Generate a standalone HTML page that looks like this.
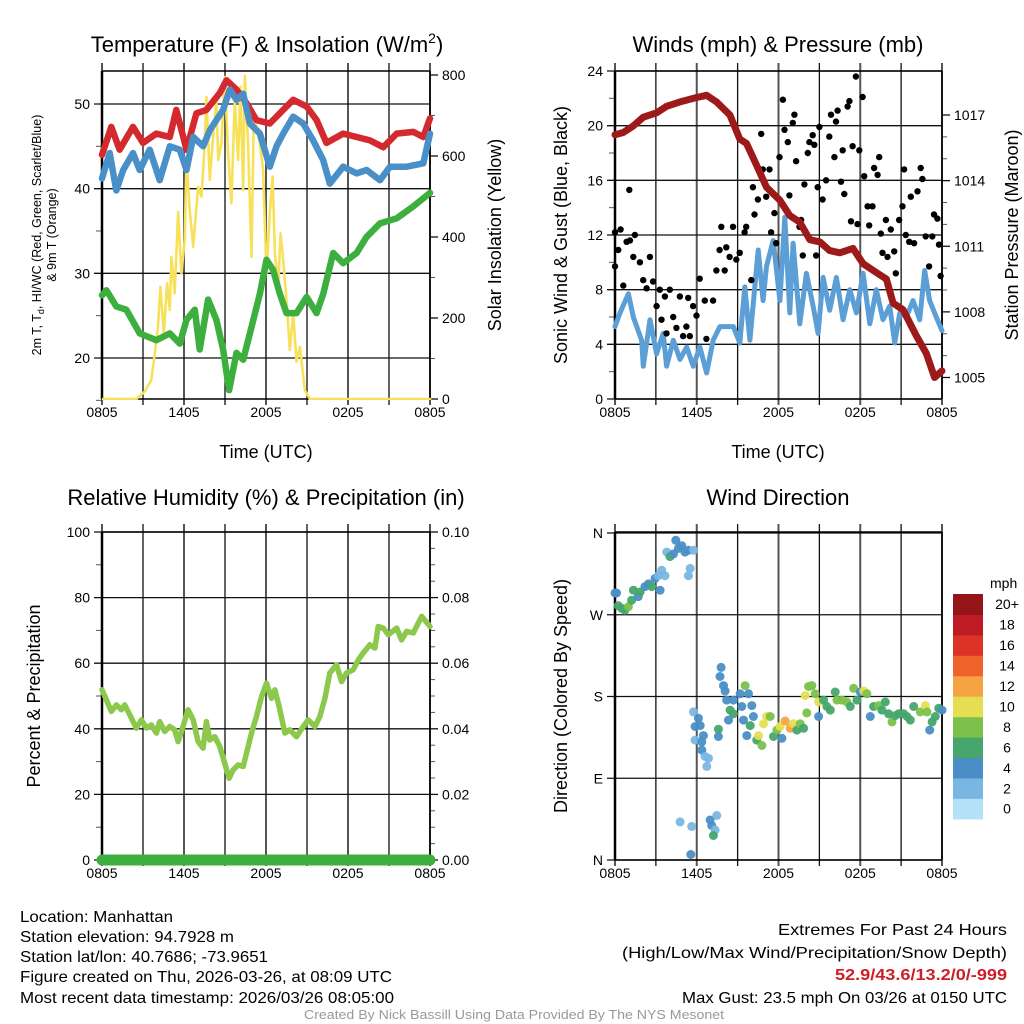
<!DOCTYPE html>
<html><head><meta charset="utf-8"><style>
html,body{margin:0;padding:0;background:#fff;}
svg{display:block;font-family:"Liberation Sans",Arial,sans-serif;}
</style></head><body>
<svg id="fig" width="1024" height="1024" viewBox="0 0 1024 1024" xmlns="http://www.w3.org/2000/svg">
<rect width="1024" height="1024" fill="#fff"/>
<g font-size="22" text-anchor="middle" fill="#000">
<text x="267" y="52">Temperature (F) &amp; Insolation (W/m<tspan font-size="14" dy="-9">2</tspan><tspan dy="9">)</tspan></text>
<text x="778" y="52">Winds (mph) &amp; Pressure (mb)</text>
<text x="266" y="505">Relative Humidity (%) &amp; Precipitation (in)</text>
<text x="778" y="505">Wind Direction</text>
</g>
<g font-size="18" text-anchor="middle">
<text x="266" y="458">Time (UTC)</text>
<text x="778" y="458">Time (UTC)</text>
<text transform="translate(501,235) rotate(-90)">Solar Insolation (Yellow)</text>
<text transform="translate(567,235) rotate(-90)">Sonic Wind &amp; Gust (Blue, Black)</text>
<text transform="translate(1018,235) rotate(-90)">Station Pressure (Maroon)</text>
<text transform="translate(40,696) rotate(-90)">Percent &amp; Precipitation</text>
<text transform="translate(567,696) rotate(-90)">Direction (Colored By Speed)</text>
</g>
<g font-size="12.5" text-anchor="middle">
<text transform="translate(41,235) rotate(-90)">2m T, T<tspan font-size="9" dy="3">d</tspan><tspan dy="-3">, HI/WC (Red, Green, Scarlet/Blue)</tspan></text>
<text transform="translate(56,235) rotate(-90)">&amp; 9m T (Orange)</text>
</g>
<g id="layer"></g>
<g font-size="16" fill="#000" lengthAdjust="spacingAndGlyphs">
<text x="20" y="922" textLength="153" lengthAdjust="spacingAndGlyphs">Location: Manhattan</text>
<text x="20" y="942" textLength="214" lengthAdjust="spacingAndGlyphs">Station elevation: 94.7928 m</text>
<text x="20" y="962" textLength="248" lengthAdjust="spacingAndGlyphs">Station lat/lon: 40.7686; -73.9651</text>
<text x="20" y="982" textLength="372" lengthAdjust="spacingAndGlyphs">Figure created on Thu, 2026-03-26, at 08:09 UTC</text>
<text x="20" y="1003" textLength="374" lengthAdjust="spacingAndGlyphs">Most recent data timestamp: 2026/03/26 08:05:00</text>
<text x="778" y="935" textLength="229" lengthAdjust="spacingAndGlyphs">Extremes For Past 24 Hours</text>
<text x="622" y="958" textLength="385" lengthAdjust="spacingAndGlyphs">(High/Low/Max Wind/Precipitation/Snow Depth)</text>
<text x="835" y="980" textLength="172" lengthAdjust="spacingAndGlyphs" fill="#cc1f26" font-weight="bold">52.9/43.6/13.2/0/-999</text>
<text x="682" y="1003" textLength="325" lengthAdjust="spacingAndGlyphs">Max Gust: 23.5 mph On 03/26 at 0150 UTC</text>
<text x="304" y="1019" textLength="420" lengthAdjust="spacingAndGlyphs" font-size="13" fill="#999">Created By Nick Bassill Using Data Provided By The NYS Mesonet</text>
</g>
</svg>
<script>
const xTickLabels = ["0805","1405","2005","0205","0805"];
// Temperature panel
const redHours=[0,0.68,1.29,2.27,3.0,3.98,4.96,5.44,6.18,6.91,7.64,8.62,9.11,9.84,10.57,11.3,12.28,13.26,13.99,14.97,15.7,16.43,17.65,18.63,19.6,20.58,21.56,22.78,23.51,24];
const redTemp=[44.0,47.3,44.6,47.3,45.4,46.5,46.1,49.3,44.6,48.9,49.3,51.3,52.8,51.7,50.1,48.1,47.7,49.3,50.5,49.7,48.1,45.4,46.5,46.1,45.7,44.9,46.5,46.7,46.1,48.3];
const blueHours=[0,0.56,1.05,1.55,2.27,2.76,3.49,4.22,4.96,5.69,6.18,6.67,7.4,7.89,8.86,9.35,9.84,10.33,10.82,11.55,12.28,12.77,13.26,13.99,14.72,15.45,16.18,16.67,17.65,18.63,19.36,20.34,21.07,22.29,23.51,24];
const blueTemp=[41.2,44.2,39.8,42.2,44.2,42.2,44.6,41.0,45.0,44.6,42.2,46.1,45.0,46.9,49.3,51.7,50.5,51.2,47.7,46.5,42.6,45.0,46.5,48.5,47.7,45.7,43.4,40.6,42.6,41.8,42.2,41.0,42.6,42.6,43.0,46.5];
const greenHours=[0,0.32,1.05,1.78,2.76,3.98,4.96,5.69,6.18,6.79,7.15,7.76,8.37,8.86,9.3,9.84,10.33,10.82,11.55,12.04,12.52,13.01,13.5,14.23,14.97,15.7,16.19,16.92,17.65,18.63,19.36,20.34,21.56,22.78,24];
const greenTemp=[27.4,28.0,26.1,25.7,22.9,22.1,22.9,21.7,24.5,25.7,21.0,26.9,24.5,21.0,16.2,20.6,19.8,22.9,27.6,31.6,30.4,27.6,25.3,25.3,27.2,25.3,27.6,32.4,31.2,32.4,34.3,35.9,36.5,37.9,39.5];
const solarHours=[0,2.51,3.12,3.61,3.86,4.1,4.27,4.52,4.76,4.96,5.08,5.32,5.57,5.81,6.05,6.18,6.42,6.67,7.03,7.28,7.52,7.64,7.89,8.13,8.37,8.5,8.74,8.98,9.23,9.47,9.72,9.96,10.13,10.33,10.45,10.69,10.94,11.11,11.3,11.55,11.79,12.04,12.28,12.48,12.65,12.89,13.06,13.26,13.5,13.74,13.99,14.23,14.48,14.84,15.21,24];
const solarWm2=[0,0,18,47,113,179,277,162,286,220,351,261,462,310,393,590,467,376,524,500,631,746,541,648,738,590,631,795,607,483,738,590,771,516,798,631,351,697,672,631,565,310,458,549,360,277,409,343,244,121,212,92,129,22,0,0];
const tempTicks=[20,30,40,50];
const solarTicks=[0,200,400,600,800];
// Winds panel
const presHours=[0,0.61,1.34,2.08,3.05,3.79,4.77,5.99,6.72,7.45,8.43,9.16,9.65,10.39,11.12,12.1,12.83,13.56,14.3,15.03,15.76,16.5,17.47,18.21,19.18,19.92,20.41,21.14,22.12,22.85,23.46,24];
const presMb=[1016.1,1016.2,1016.5,1016.9,1017.1,1017.4,1017.6,1017.8,1017.9,1017.6,1017.0,1015.9,1015.7,1014.7,1013.7,1013.1,1012.4,1012.1,1011.3,1011.2,1010.8,1010.7,1010.9,1010.2,1009.8,1009.5,1008.4,1008.1,1006.9,1006.1,1005.0,1005.3];
const sonicHours=[0,0.37,0.98,1.34,1.95,2.08,2.57,3.05,3.54,3.79,4.28,4.77,5.26,5.74,6.23,6.72,7.21,7.7,8.68,9.16,9.53,9.9,10.51,10.87,11.12,11.61,12.1,12.46,12.83,13.07,13.56,14.05,14.54,14.91,15.27,15.76,16.25,16.74,17.23,17.72,18.21,18.7,19.18,19.67,20.16,20.53,20.9,21.39,21.87,22.36,22.73,23.09,23.58,24];
const sonicMph=[5.3,6.3,7.7,6.0,4.3,2.4,5.8,3.3,4.8,2.4,4.3,2.9,3.8,2.4,3.8,1.9,4.3,5.3,5.3,4.1,8.2,4.3,10.9,7.2,9.7,11.6,7.2,13.3,6.3,11.4,5.5,9.2,6.8,4.8,8.9,6.5,8.9,5.8,8.0,6.3,9.2,5.5,8.0,5.8,6.8,4.1,6.3,6.0,7.2,5.8,9.4,7.2,6.0,5.0];
const gustHours=[0,0,0.24,0.41,0.61,0.85,1.05,1.1,1.34,1.46,1.83,2.07,2.32,2.56,2.8,3.05,3.29,3.41,3.66,3.78,4.02,4.27,4.51,4.76,5.0,5.24,5.37,5.49,5.73,5.98,6.22,6.59,6.71,7.2,7.44,7.68,7.8,8.05,8.17,8.41,8.66,8.9,9.15,9.51,9.63,10.0,10.12,10.24,10.49,10.73,10.85,11.1,11.34,11.46,11.7,11.83,12.07,12.32,12.44,12.68,12.8,13.05,13.17,13.29,13.54,13.66,13.78,13.9,14.15,14.27,14.51,14.63,14.76,14.88,15.0,15.24,15.49,15.73,15.85,16.1,16.22,16.34,16.59,16.71,16.83,17.07,17.2,17.32,17.44,17.68,17.8,17.93,18.17,18.29,18.54,18.66,18.9,19.02,19.27,19.39,19.51,19.63,19.88,20.0,20.24,20.49,20.61,20.85,21.1,21.22,21.34,21.59,21.71,21.95,22.2,22.44,22.56,22.8,23.05,23.29,23.41,23.66,23.78,23.9];
const gustMph=[9.7,12.2,10.9,12.4,8.3,11.5,15.3,11.6,10.4,12.0,10.0,8.7,8.1,10.4,8.6,6.8,8.0,5.8,7.5,4.8,8.0,6.0,5.2,7.5,4.6,5.3,7.4,4.6,6.8,6.1,8.8,7.2,4.4,7.2,9.4,10.9,12.6,9.4,11.1,10.4,12.6,10.2,10.7,12.2,12.6,8.7,15.5,13.5,14.6,19.4,16.8,14.8,16.8,12.2,13.6,11.4,17.7,21.9,19.7,18.8,14.9,20.2,20.8,17.4,12.6,13.1,10.5,15.7,18.0,18.8,19.3,18.6,10.5,15.5,19.9,14.6,16.0,19.2,20.8,17.7,20.3,21.1,15.9,18.2,15.0,21.4,21.8,13.0,18.5,23.6,12.8,18.2,22.1,16.3,14.1,12.7,14.1,16.9,16.4,17.7,12.1,10.7,13.1,10.4,12.4,10.8,9.2,13.1,14.1,16.8,12.0,11.5,14.8,11.4,15.2,16.9,16.1,11.9,9.7,11.9,13.5,13.2,11.3,9.0];
const windTicks=[0,4,8,12,16,20,24];
const presTicks=[1005,1008,1011,1014,1017];
// Humidity panel
const rhHours=[0,0.32,0.68,1.05,1.42,1.66,2.03,2.51,2.88,3.25,3.61,3.98,4.22,4.59,4.96,5.32,5.57,5.93,6.3,6.67,7.03,7.4,7.64,7.89,8.25,8.62,8.98,9.3,9.6,9.96,10.33,10.57,10.94,11.3,11.67,12.04,12.4,12.65,12.96,13.38,13.74,14.23,14.72,15.09,15.58,15.94,16.31,16.67,17.16,17.53,17.89,18.38,18.75,19.11,19.6,19.97,20.21,20.58,20.95,21.56,21.92,22.29,22.78,23.39,24];
const rhPct=[51.9,48.8,45.3,47.3,45.8,47.3,44.3,40.2,42.7,40.2,41.2,38.7,42.2,39.2,40.7,39.7,36.1,40.7,45.8,42.7,36.1,34.1,42.2,36.6,37.6,34.6,29.5,24.9,27.5,29.0,28.5,32.6,38.7,43.7,49.8,53.9,49.3,51.9,46.8,38.7,39.7,37.6,40.7,42.7,40.7,43.7,49.3,57.0,59.5,54.4,57.0,58.0,61.0,63.1,65.6,64.6,71.2,70.7,68.7,70.7,67.1,69.7,69.2,74.3,71.2];
const precipHours=[0,24];
const precipIn=[0,0];
const rhTicks=[0,20,40,60,80,100];
const precipTicks=["0.00","0.02","0.04","0.06","0.08","0.10"];
// Wind direction panel
const dirHours=[0,0.12,0.24,0.49,0.73,0.98,1.22,1.35,1.71,1.84,2.2,2.45,2.69,2.94,3.18,3.31,3.43,3.67,3.8,4.04,4.29,4.46,4.65,4.9,5.14,5.39,5.51,5.39,5.76,4.78,5.63,5.56,5.76,5.88,6.12,6.25,5.88,6.37,6.49,6.37,6.61,6.86,6.74,6.98,7.1,7.35,7.22,7.47,7.79,7.71,7.96,8.08,7.59,7.59,8.2,8.45,8.69,8.33,8.69,9.18,9.31,9.55,9.8,9.43,9.67,9.92,10.04,10.16,10.41,10.53,10.78,10.9,11.14,11.39,11.63,11.88,12.12,12.25,12.49,12.86,13.1,13.35,13.59,13.84,14.08,13.96,14.2,14.45,14.69,14.94,14.94,15.31,15.55,15.8,16.16,16.29,16.65,17.02,17.27,17.51,17.76,18.0,18.25,18.49,18.74,18.98,19.35,19.59,19.84,20.08,20.33,20.57,20.82,21.19,21.43,21.67,21.92,22.41,22.78,22.9,23.1,23.27,23.51,23.76,24];
const dirDeg=[294,294,280,277,275,279,286,297,290,295,301,304,301,310,313,297,319,313,339,334,337,352,343,346,339,341,321,313,341,42,37,6,163,147,156,148,132,130,137,121,114,112,103,44,38,33,27,49,212,202,192,186,144,136,176,165,161,154,176,183,169,192,183,154,137,148,170,158,132,137,126,150,158,158,136,143,147,134,153,145,150,143,150,145,162,181,191,192,183,174,158,176,169,165,185,176,176,174,169,189,176,185,186,183,158,169,170,165,174,161,152,159,161,161,158,154,169,163,170,163,143,152,158,167,165];
const dirSpeed=[4,4,6,6,6,8,6,6,4,6,4,4,6,4,2,4,2,2,2,6,4,4,4,4,4,4,2,2,2,2,2,4,2,4,4,4,2,4,4,4,2,2,2,4,4,2,6,2,4,4,4,4,6,4,4,6,6,4,4,4,4,8,4,4,4,6,4,4,6,10,8,10,10,8,6,8,10,4,12,12,10,6,8,6,8,10,8,8,8,10,4,6,6,6,6,8,8,8,6,8,6,4,10,8,4,6,8,6,6,6,8,6,6,6,6,6,6,8,10,8,4,6,6,6,4];
const dirTicks=["N","E","S","W","N"];
const speedBins=["0","2","4","6","8","10","12","14","16","18","20+"];
const speedColors=["#b3e1f7","#7ab6e2","#4a8ec6","#46a66b","#7cc14b","#e5de52","#f6a443","#ef6329","#dc3228","#bd1c24","#931518"];

const NS="http://www.w3.org/2000/svg";
const layer=document.getElementById('layer');
function el(tag,attrs,parent){const e=document.createElementNS(NS,tag);for(const k in attrs)e.setAttribute(k,attrs[k]);(parent||layer).appendChild(e);return e;}
function scale(d0,d1,p0,p1){return v=>p0+(v-d0)*(p1-p0)/(d1-d0);}

function frame(name,x0,x1,y0,y1,yLeftVals,yLeft,leftLabels,yRightVals,yRight,rightLabels,leftMinor,rightMinor){
  const g=el('g',{});
  
  
  const xs=scale(0,24,x0,x1);
  for(let h=0;h<=24;h+=3){
    const x=xs(h);
    const ln=el('line',{x1:x,x2:x,y1:y0-8,y2:y1+6,stroke:(h%6===0?'#555':'#111'),'stroke-width':(h%6===0?2:1.3)},g);
    
    
  }
  for(let i=0;i<xTickLabels.length;i++){
    const t=el('text',{x:xs(i*6),y:y1+18,'font-size':14,'text-anchor':'middle'},g);
    
    
    t.textContent=xTickLabels[i];
  }
  yLeftVals.forEach((v,i)=>{
    const y=yLeft(v);
    const ln=el('line',{x1:x0-8,x2:x1,y1:y,y2:y,stroke:'#111','stroke-width':1.3},g);
    
    
    const t=el('text',{x:x0-12,y:y+5,'font-size':14,'text-anchor':'end'},g);
    
    
    t.textContent=leftLabels[i];
  });
  (leftMinor||[]).forEach(v=>{const y=yLeft(v);el('line',{x1:x0-6,x2:x0,y1:y,y2:y,stroke:'#555','stroke-width':1},g);});
  if(yRightVals){
    yRightVals.forEach((v,i)=>{
      const y=yRight(v);
      el('line',{x1:x1,x2:x1+8,y1:y,y2:y,stroke:'#111','stroke-width':1.3},g);
      const t=el('text',{x:x1+12,y:y+5,'font-size':14,'text-anchor':'start'},g);
      
      
      t.textContent=rightLabels[i];
    });
    (rightMinor||[]).forEach(v=>{const y=yRight(v);el('line',{x1:x1,x2:x1+5,y1:y,y2:y,stroke:'#555','stroke-width':1},g);});
  }
  el('line',{x1:x0,x2:x1,y1:y0,y2:y0,stroke:'#000','stroke-width':1.5},g);
  el('line',{x1:x0,x2:x0,y1:y0,y2:y1,stroke:'#000','stroke-width':2.5},g);
  el('line',{x1:x1,x2:x1,y1:y0,y2:y1,stroke:'#000','stroke-width':1.5},g);
  el('line',{x1:x0,x2:x1,y1:y1,y2:y1,stroke:'#000','stroke-width':1.5},g);
  return xs;
}
function path(xs,ys,hours,vals,color,w,name){
  const d=hours.map((h,i)=>(i?'L':'M')+xs(h).toFixed(1)+','+ys(vals[i]).toFixed(1)).join(' ');
  const p=el('path',{d:d,fill:'none',stroke:color,'stroke-width':w,'stroke-linejoin':'round','stroke-linecap':'round'});
  
  
  return p;
}

// Panel 1
const t0=102,t1=430,tTop=71,tBot=399;
const yTemp=scale(20,50,358,104);
const ySolar=scale(0,800,399,75);
const xs1=frame('temperature',t0,t1,tTop,tBot,tempTicks,yTemp,tempTicks.map(String),solarTicks,ySolar,solarTicks.map(String),[15,25,35,45],[100,300,500,700]);
const clip1=el('clipPath',{id:'c1'});el('rect',{x:t0,y:tTop-4,width:t1-t0+3,height:tBot-tTop+5},clip1);
path(xs1,ySolar,solarHours,solarWm2,'#f8e15a',2.6,'solar-insolation-line').setAttribute('clip-path','url(#c1)');
path(xs1,yTemp,greenHours,greenTemp,'#3daf3e',6.5,'dewpoint-line');
path(xs1,yTemp,redHours,redTemp,'#d42a2f',6.5,'temperature-line');
path(xs1,yTemp,blueHours,blueTemp,'#4a90c8',6.5,'windchill-line');

// Panel 2
const w0=615,w1=942;
const yWind=scale(0,24,399,71);
const yPres=scale(1005,1017,377.5,115);
const xs2=frame('winds',w0,w1,tTop,tBot,windTicks,yWind,windTicks.map(String),presTicks,yPres,presTicks.map(String),[2,6,10,14,18,22],[1006,1007,1009,1010,1012,1013,1015,1016]);
path(xs2,yWind,sonicHours,sonicMph,'#5b9fd6',5,'sonic-wind-line');
gustHours.forEach((h,i)=>{
  const c=el('circle',{cx:xs2(h).toFixed(1),cy:yWind(gustMph[i]).toFixed(1),r:3.2,fill:'#000'});
  
  
});
path(xs2,yPres,presHours,presMb,'#9e1a1a',7,'pressure-line');

// Panel 3
const h0=532,h1=860;
const yRh=scale(0,100,860,532);
const yPrecip=scale(0,0.10,860,532);
const precipVals=[0,0.02,0.04,0.06,0.08,0.10];
const xs3=frame('humidity',t0,t1,h0,h1,rhTicks,yRh,rhTicks.map(String),precipVals,yPrecip,precipTicks,[10,30,50,70,90],[0.005,0.01,0.015,0.025,0.03,0.035,0.045,0.05,0.055,0.065,0.07,0.075,0.085,0.09,0.095]);
path(xs3,yRh,rhHours,rhPct,'#8cc84b',5.5,'relative-humidity-line');
path(xs3,yPrecip,precipHours,precipIn,'#3daf3e',11,'precipitation-line');

// Panel 4
const yDir=scale(0,360,860,533);
const dirVals=[0,90,180,270,360];
const xs4=frame('wind-direction',w0,w1,h0,h1,dirVals,yDir,dirTicks,null,null,null,[],[]);
dirHours.forEach((h,i)=>{
  const bin=Math.min(10,Math.floor(dirSpeed[i]/2));
  const c=el('circle',{cx:xs4(h).toFixed(1),cy:yDir(dirDeg[i]).toFixed(1),r:4.5,fill:speedColors[bin],'fill-opacity':0.95});
  
  
});
// Colorbar
const cb=el('g',{});


const cbTop=594,cbH=20.45;
const mt=el('text',{x:990,y:588,'font-size':14},cb);


mt.textContent='mph';
speedBins.forEach((lab,i)=>{
  const y=cbTop+(10-i)*cbH;
  const r=el('rect',{x:953,y:y.toFixed(1),width:30,height:(cbH+0.5).toFixed(1),fill:speedColors[i]},cb);
  
  
  const t=el('text',{x:1007,y:(y+cbH/2+5).toFixed(1),'font-size':14,'text-anchor':'middle'},cb);
  
  
  t.textContent=lab;
});
</script>
</body></html>
